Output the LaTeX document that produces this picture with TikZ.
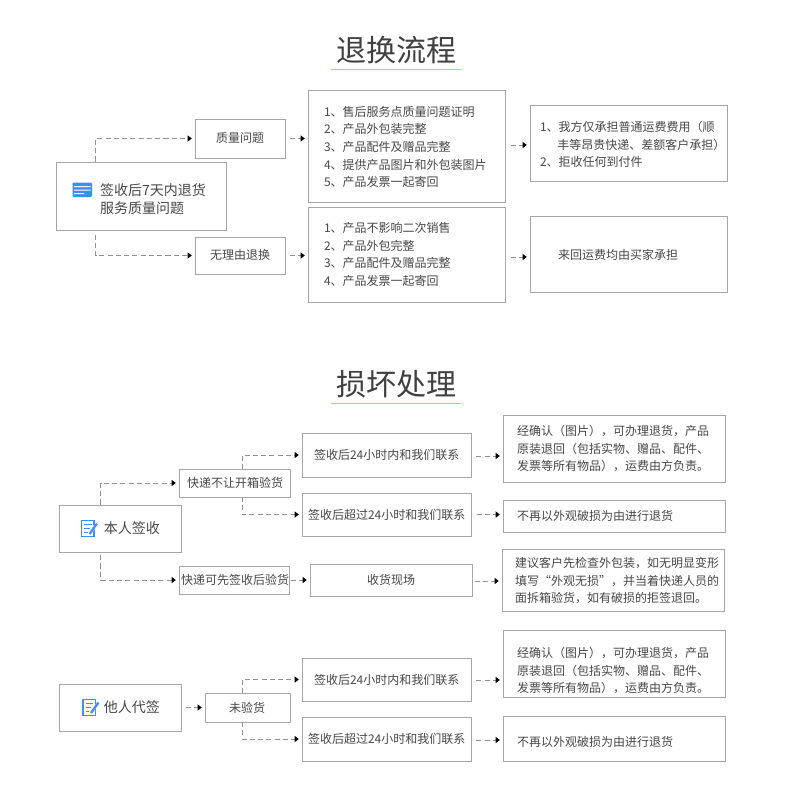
\documentclass[tikz,border=0pt]{standalone}
\usepackage{fontspec}
\setmainfont{Noto Sans CJK SC}
\usetikzlibrary{arrows.meta,calc}
\definecolor{boxc}{HTML}{A6A6A6}
\definecolor{linec}{HTML}{929292}
\definecolor{txtc}{HTML}{484848}
\definecolor{iconc}{HTML}{3F8FF2}
\definecolor{rulec}{HTML}{F2C23C}
\tikzset{
  x=0.75pt,y=-0.75pt,
  box/.style={draw=boxc,line width=0.75pt,fill=white,text=txtc,inner sep=0pt,font=\fontsize{9}{13.2}\selectfont},
  big/.style={font=\fontsize{10.5}{13.5}\selectfont},
  title/.style={text=black!75,inner sep=0pt,font=\fontsize{22.5}{26}\selectfont},
  conn/.style={draw=linec,line width=0.75pt,dash pattern=on 3.8pt off 2.4pt,
    -{Triangle[black,length=3.2pt,width=4.6pt]},shorten >=2pt},
  ttrule/.style={draw=rulec,line width=0.75pt},
  ico/.style={draw=iconc,line width=1.1pt},
}
% name, x1,y1,x2,y2, options, left pad (px), dy (px), lines
\newcommand{\bx}[9]{%
  \pgfmathsetmacro{\bw}{(#4-#2)*0.75}%
  \pgfmathsetmacro{\bh}{(#5-#3)*0.75}%
  \pgfmathsetmacro{\bp}{(#7)*0.75}%
  \pgfmathsetmacro{\br}{-2.25-(#8)*0.75}%
  \node[box,minimum width=\bw pt,minimum height=\bh pt,#6] (#1) at ({(#2+#4)/2},{(#3+#5)/2})
    {\makebox[\bw pt][l]{\hspace*{\bp pt}\raisebox{\br pt}[0pt][0pt]{\begin{tabular}{@{}l@{}}#9\end{tabular}}}};}
\begin{document}
\begin{tikzpicture}
\useasboundingbox (0,0) rectangle (790,797);
\fill[white] (0,0) rectangle (790,797);
% titles
\node[title] (t1) at (396,50) {退换流程};
\coordinate (t1a) at (331,69); \coordinate (t1b) at (461,69);
\draw[ttrule] (t1a) -- (t1b);
\node[title] (t2) at (396,384) {损坏处理};
\coordinate (t2a) at (331,403); \coordinate (t2b) at (461,403);
\draw[ttrule] (t2a) -- (t2b);
% ---- section 1
\bx{main}{56}{162}{226}{230}{big}{44}{5.5}{签收后7天内退货\\服务质量问题}
\bx{q}{195}{119}{285.5}{158}{}{21}{0.5}{质量问题}
\bx{n}{195}{237}{285.5}{274}{}{15}{0.5}{无理由退换}
\bx{a}{308}{90}{505}{202}{}{16}{2}{1、售后服务点质量问题证明\\2、产品外包装完整\\3、产品配件及赠品完整\\4、提供产品图片和外包装图片\\5、产品发票一起寄回}
\bx{b}{308}{207}{505}{302}{}{16}{1}{1、产品不影响二次销售\\2、产品外包完整\\3、产品配件及赠品完整\\4、产品发票一起寄回}
\bx{c}{530}{105}{727}{181}{}{10}{2.5}{1、我方仅承担普通运费费用（顺\\\hspace*{13pt}丰等昂贵快递、差额客户承担）\\2、拒收任何到付件}
\bx{d}{530}{216}{727}{292}{}{28}{2}{来回运费均由买家承担}
\draw[conn] ([xshift=30pt]main.north west) |- (q.west);
\draw[conn,shorten <=3pt] ([xshift=30pt]main.south west) |- (n.west);
\draw[conn,shorten <=3pt] (q.east) -- (q.east -| a.west);
\draw[conn,shorten <=3pt] (n.east) -- (n.east -| b.west);
\coordinate (ac) at (505,145); \coordinate (bd) at (505,257);
\draw[conn,shorten <=4.5pt] (ac) -- (ac -| c.west);
\draw[conn,shorten <=4.5pt] (bd) -- (bd -| d.west);
% ---- section 2
\bx{self}{59}{505}{181}{552}{big}{45}{2.5}{本人签收}
\bx{k1}{179}{469}{290}{497}{}{8}{0.5}{快递不让开箱验货}
\bx{k2}{179}{566}{289}{594}{}{2}{0.5}{快递可先签收后验货}
\bx{s1}{302}{433}{471}{477}{}{12}{1}{签收后24小时内和我们联系}
\bx{s2}{302}{493}{471}{536}{}{6}{1}{签收后超过24小时和我们联系}
\bx{s3}{310}{564}{472}{596}{}{57}{1}{收货现场}
\bx{r1}{503}{415}{725}{482}{}{14}{1}{经确认（图片），可办理退货，产品\\原装退回（包括实物、赠品、配件、\\发票等所有物品），运费由方负责。}
\bx{r2}{503}{500}{725}{532}{}{14}{1}{不再以外观破损为由进行退货}
\bx{r3}{502}{549}{724}{611}{}{13}{1.5}{建议客户先检查外包装，如无明显变形\\填写“外观无损”，并当着快递人员的\\面拆箱验货，如有破损的拒签退回。}
\draw[conn] ([xshift=31.5pt]self.north west) |- (k1.west);
\draw[conn,shorten <=2pt] ([xshift=31.5pt]self.south west) |- (k2.west);
\coordinate (kt) at (242,469); \coordinate (kb) at (242,497);
\draw[conn] (kt) |- (s1.west);
\draw[conn] (kb) |- (s2.west);
\draw[conn,shorten <=1pt] (k2.east) -- (k2.east -| s3.west);
\coordinate (s1e) at (471,456);
\draw[conn,shorten <=4pt] (s1e) -- (s1e -| r1.west);
\draw[conn,shorten <=4pt] (s2.east) -- (s2.east -| r2.west);
\coordinate (s3e) at (472,581);
\draw[conn,shorten <=2pt] (s3e) -- (s3e -| r3.west);
% ---- section 3
\bx{other}{59}{684}{181}{731}{big}{45}{2}{他人代签}
\bx{w}{205}{693}{290}{722}{}{24}{1}{未验货}
\bx{s4}{302}{658}{471}{701}{}{12}{1}{签收后24小时内和我们联系}
\bx{s5}{302}{717}{471}{761}{}{6}{1}{签收后超过24小时和我们联系}
\bx{r4}{503}{630}{725}{697}{}{14}{8}{经确认（图片），可办理退货，产品\\原装退回（包括实物、赠品、配件、\\发票等所有物品），运费由方负责。}
\bx{r5}{503}{716}{725}{761}{}{14}{4}{不再以外观破损为由进行退货}
\draw[conn,shorten <=3.5pt] (other.east) -- (other.east -| w.west);
\coordinate (wt) at (242,693); \coordinate (wb) at (242,722);
\draw[conn] (wt) |- (s4.west);
\draw[conn] (wb) |- (s5.west);
\coordinate (s4e) at (471,680);
\draw[conn,shorten <=4pt] (s4e) -- (s4e -| r4.west);
\coordinate (s5e) at (471,740);
\draw[conn,shorten <=4pt] (s5e) -- (s5e -| r5.west);
% ---- icons
\fill[iconc,rounded corners=0.8pt] (72.5,182.5) rectangle (92,197);
\fill[white] (74,186) rectangle (90.5,187.2) (74,189.5) rectangle (90.5,190.7) (74,193) rectangle (84,194.2);
\foreach \ox/\oy in {81.5/520.5,83/699.5}{
  \begin{scope}[shift={(\ox,\oy)}]
    \draw[ico] (0,0) rectangle (12.5,16);
    \draw[iconc,line width=0.9pt] (2.5,4) -- (10,4) (2.5,8) -- (8,8) (2.5,12) -- (6,12);
    \draw[white,line width=2.6pt] (8,13) -- (13,5.5);
    \draw[iconc,line width=1.7pt] (8,13.5) -- (15.5,3);
  \end{scope}
}
\end{tikzpicture}
\end{document}
